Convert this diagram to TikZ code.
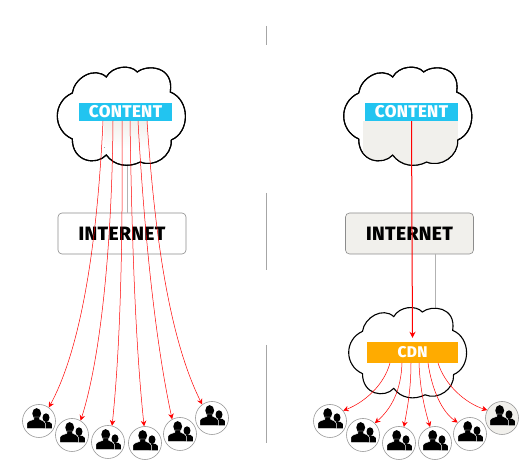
\documentclass[tikz,border=0pt]{standalone}
\usepackage{fontspec}
\setmainfont[BoldFont={Fira Sans ExtraBold}]{Fira Sans}
\usetikzlibrary{arrows.meta}
\definecolor{cyanbar}{HTML}{22C4F0}
\definecolor{orangebar}{HTML}{FFAB00}
\definecolor{paper}{HTML}{F1F0EC}
\def\cloudpath{(-50,-23) .. controls (-48,-38) and (-28,-50) .. (-16,-39)
 .. controls (-10,-50) and (8,-52) .. (15,-44)
 .. controls (25,-52) and (52,-50) .. (48,-24)
 .. controls (68,-16) and (68,16) .. (49,24)
 .. controls (50,40) and (32,52) .. (18,46)
 .. controls (6,52) and (-8,50) .. (-16,39)
 .. controls (-26,50) and (-50,46) .. (-50,23)
 .. controls (-70,14) and (-70,-14) .. (-50,-23) -- cycle}
\tikzset{
 x=1pt,y=-1pt,
 cloudline/.style={draw=black,line width=1.1pt,fill=white},
 bar/.style={inner sep=0pt,text=white,font=\bfseries\fontsize{17}{17}\selectfont\addfontfeatures{LetterSpace=2}},
 netbox/.style={draw=black!45,rounded corners=4pt,line width=.6pt,minimum width=128pt,minimum height=41pt,inner sep=0pt,font=\bfseries\fontsize{19.3}{19.3}\selectfont\addfontfeatures{LetterSpace=2}},
 user/.style={circle,draw=black!40,line width=.6pt,minimum size=33pt,inner sep=0pt},
 divider/.style={draw=black!35,line width=.8pt},
 wire/.style={draw=black!30,line width=.6pt},
 flow/.style={draw=red,line width=.5pt,-{Stealth[length=5.5pt,width=5.5pt]}},
 people/.pic={
  \fill[black] (7,-3.3) ellipse[x radius=3.5,y radius=4.4];
  \fill[black] (4,7.3) -- (4,2) -- (7,.5) -- (10.5,1) -- (12.8,2.8) -- (12.8,7.3) -- cycle;
  \fill[black] (-2.3,-7.5) ellipse[x radius=4.4,y radius=5.4];
  \filldraw[black,draw=white,line width=.4pt] (-12,7.6) -- (-12,2.2) .. controls (-11.5,.2) and (-8,-.6) .. (-5.2,-1.6) -- (-5,-4) -- (.5,-4) -- (.7,-1.6) .. controls (3,-.6) and (6,.2) .. (6.3,2.2) -- (6.3,7.6) -- cycle;
 }
}
\begin{document}
\begin{tikzpicture}
\useasboundingbox (0,0) rectangle (531,470);
\fill[white] (0,0) rectangle (531,470);
% dividers
\coordinate (d1a) at (266,26); \coordinate (d1b) at (266,45);
\coordinate (d2a) at (266,193); \coordinate (d2b) at (266,270);
\coordinate (d3a) at (266,345); \coordinate (d3b) at (266,443);
\draw[divider] (d1a) -- (d1b);
\draw[divider] (d2a) -- (d2b);
\draw[divider] (d3a) -- (d3b);
% boxes
\node[netbox,fill=white] (netL) at (122,233.5) {INTERNET};
\node[netbox,fill=paper] (netR) at (409.5,233.5) {INTERNET};
% grey wires
\coordinate (wLa) at (127,160); \coordinate (wLb) at (127,213);
\coordinate (wRa) at (435,254); \coordinate (wRb) at (435,312);
\draw[wire] (wLa) -- (wLb);
\draw[wire] (wRa) -- (wRb);
% clouds
\begin{scope}[shift={(122.3,116)}]
 \path[cloudline] \cloudpath;
 \begin{scope}
  \clip \cloudpath;
  \fill[top color=paper,bottom color=white] (-18,5) rectangle (25,32);
 \end{scope}
 \draw[line width=1.1pt] \cloudpath;
\end{scope}
\begin{scope}[shift={(408.7,116)}]
 \path[cloudline] \cloudpath;
 \begin{scope}
  \clip \cloudpath;
  \fill[paper] (-46,5) rectangle (49,55);
 \end{scope}
 \draw[line width=1.1pt] \cloudpath;
\end{scope}
\begin{scope}[shift={(408.5,352.5)},scale=.92]
 \path[cloudline] \cloudpath;
\end{scope}
% bars
\node[bar,fill=cyanbar,minimum width=93pt,minimum height=18pt] (contentL) at (125.5,112) {CONTENT};
\node[bar,fill=cyanbar,minimum width=93pt,minimum height=18pt] (contentR) at (411.5,112) {CONTENT};
\node[bar,fill=orangebar,minimum width=91pt,minimum height=21pt,font=\bfseries\fontsize{15.5}{15.5}\selectfont\addfontfeatures{LetterSpace=2}] (cdn) at (412.5,352.5) {CDN};
% users
\foreach \n/\ux/\uy/\fc in {a1/39/421/white,a2/72/435/white,a3/108/442/white,a4/145/443/white,a5/180/434/white,a6/212/418/white,
 b1/330/421/white,b2/363/435/white,b3/399/443/white,b4/435/443/white,b5/470/434/white,b6/502/418/paper}{
 \node[user,fill=\fc] (\n) at (\ux,\uy) {};
 \pic at (\n) {people};
}
% flow starts
\foreach \n/\sx in {s1/103,s2/113,s3/122,s4/130,s5/138,s6/147}{\coordinate (\n) at (\sx,121);}
\foreach \n/\sx in {t1/390,t2/402,t3/411,t4/419,t5/428,t6/438}{\coordinate (\n) at (\sx,363);}
% left flows
\draw[flow] (s1) .. controls (97,250) and (80,350) .. (a1.54);
\draw[flow] (s2) .. controls (112,250) and (100,360) .. (a2.59);
\draw[flow] (s3) .. controls (123,250) and (120,350) .. (a3.76);
\draw[flow] (s4) .. controls (132,250) and (136,350) .. (a4.93);
\draw[flow] (s5) .. controls (144,230) and (155,340) .. (a5.118);
\draw[flow] (s6) .. controls (155,240) and (170,340) .. (a6.126);
% right flows
\draw[draw=red,line width=1pt,-{Stealth[length=6pt,width=6pt]},shorten >=4pt] (contentR.south) -- (cdn.north);
\draw[flow] (t1) .. controls (384,385) and (365,402) .. (b1.38);
\draw[flow] (t2) .. controls (401,390) and (392,408) .. (b2.45);
\draw[flow] (t3) .. controls (411,390) and (407,410) .. (b3.73);
\draw[flow] (t4) .. controls (420,390) and (425,410) .. (b4.107);
\draw[flow] (t5) .. controls (432,390) and (442,412) .. (b5.137);
\draw[flow] (t6) .. controls (445,385) and (465,403) .. (b6.152);
\end{tikzpicture}
\end{document}
